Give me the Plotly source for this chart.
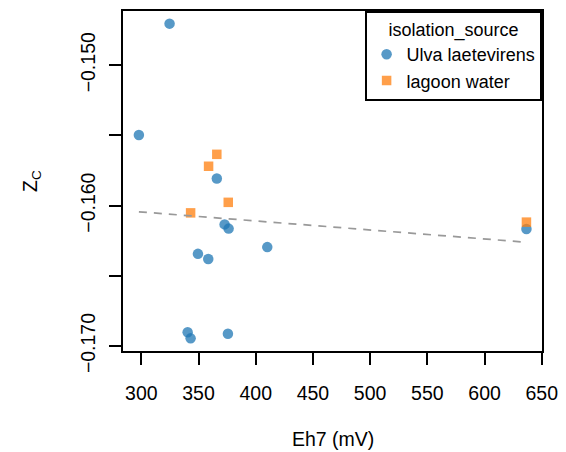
import numpy as np
import plotly.graph_objects as go

# ---- data ----
eh7_ulva = [324.7, 297.9, 366.0, 372.8, 376.3, 349.5, 358.5, 410.1, 340.5, 343.1, 375.7, 636.6]
zc_ulva = [-0.14704, -0.15497, -0.15807, -0.16134, -0.16164, -0.16344, -0.16381, -0.16296,
           -0.16903, -0.16946, -0.16913, -0.16167]
eh7_lagoon = [366.0, 358.8, 376.0, 343.1, 636.6]
zc_lagoon = [-0.15635, -0.15720, -0.15977, -0.16052, -0.16118]

x_tickvals = [300, 350, 400, 450, 500, 550, 600, 650]
y_tickvals = [-0.170, -0.160, -0.150]
y_ticktext = ["\u22120.170", "\u22120.160", "\u22120.150"]
y_minor_tickvals = [-0.165, -0.155]

# regression over all points
all_x = np.array(eh7_ulva + eh7_lagoon)
all_y = np.array(zc_ulva + zc_lagoon)
slope, intercept = np.polyfit(all_x, all_y, 1)
fit_x = [all_x.min(), all_x.max()]
fit_y = [slope * v + intercept for v in fit_x]

FONT = "Liberation Sans, Arial, Helvetica, sans-serif"

W, H = 558, 444
ML, MR, MT, MB = 115, 24, 1, 101
PW, PH = W - ML - MR, H - MT - MB

fig = go.Figure()
fig.add_trace(go.Scatter(
    x=eh7_ulva, y=zc_ulva, mode="markers", name="Ulva laetevirens",
    marker=dict(symbol="circle", size=10.5, color="#1f77b4", opacity=0.75, line=dict(width=0)),
))
fig.add_trace(go.Scatter(
    x=eh7_lagoon, y=zc_lagoon, mode="markers", name="lagoon water",
    marker=dict(symbol="square", size=9.5, color="#ff7f0e", opacity=0.75, line=dict(width=0)),
))
fig.add_trace(go.Scatter(
    x=fit_x, y=fit_y, mode="lines", showlegend=False, hoverinfo="skip",
    line=dict(color="#999999", width=1.7, dash="8px,7px"),
))

fig.update_layout(
    width=W, height=H,
    margin=dict(l=ML, r=MR, t=MT, b=MB),
    paper_bgcolor="white", plot_bgcolor="white",
    font=dict(family=FONT, size=19, color="black"),
    showlegend=True,
    legend=dict(
        x=1, y=1, xanchor="right", yanchor="top",
        bgcolor="white", bordercolor="black", borderwidth=1.6,
        font=dict(size=18, family=FONT),
        title=dict(text="isolation_source", side="top center", font=dict(size=18, family=FONT)),
        tracegroupgap=0,
    ),
    xaxis=dict(
        range=[284.0, 650.2], tickvals=x_tickvals, ticks="outside", ticklen=12, tickwidth=1.7,
        tickcolor="black", showline=True, linecolor="black", linewidth=1.8, mirror=True,
        showgrid=False, zeroline=False, tickfont=dict(size=19.5), ticklabelstandoff=12,
    ),
    yaxis=dict(
        range=[-0.17036, -0.14614], tickvals=y_tickvals, ticktext=y_ticktext, tickangle=-90,
        ticks="outside", ticklen=12, tickwidth=1.7, tickcolor="black",
        showline=True, linecolor="black", linewidth=1.8, mirror=True,
        showgrid=False, zeroline=False, tickfont=dict(size=19.5), ticklabelstandoff=6,
        minor=dict(tickvals=y_minor_tickvals, ticks="outside", ticklen=12, tickwidth=1.7,
                   tickcolor="black", showgrid=False),
    ),
    annotations=[
        dict(text="Eh7 (mV)", xref="paper", yref="paper", x=0.5, y=-89 / PH,
             xanchor="center", yanchor="middle", showarrow=False, font=dict(size=19.5)),
        dict(text="Z<sub>C</sub>", xref="paper", yref="paper", x=-92 / PW, y=0.5,
             xanchor="center", yanchor="middle", textangle=-90, showarrow=False, font=dict(size=19.5)),
    ],
)

fig.write_html("out.html")
